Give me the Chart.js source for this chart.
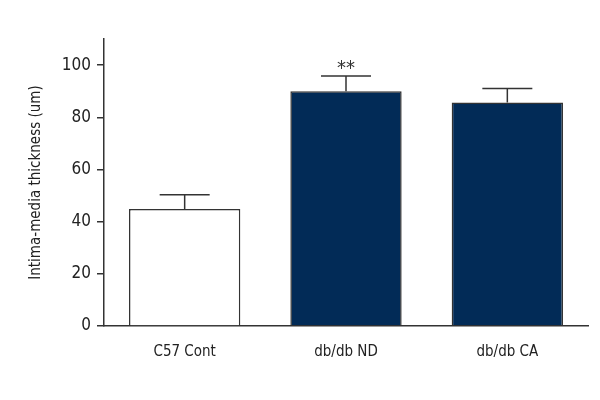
<!DOCTYPE html>
<html>
<head>
<meta charset="utf-8">
<script src="https://cdn.jsdelivr.net/npm/chart.js@4.4.0/dist/chart.umd.min.js"></script>
<style>
  html, body { margin: 0; padding: 0; background: #fff; }
  #wrap { width: 600px; height: 400px; }
</style>
</head>
<body>
<div id="wrap"><canvas id="imtChart"></canvas></div>
<script>
// data
const groups = ['C57 Cont', 'db/db ND', 'db/db CA'];
const means = [44.8, 90.0, 85.7];
const errors = [5.5, 5.8, 5.3];
const marks = ['', '**', ''];
const yTicks = [0, 20, 40, 60, 80, 100];

const FONT = "'DejaVu Sans Condensed', 'Liberation Sans Narrow', sans-serif";
const INK = '#333333';

// error bars + significance stars
const errorBarPlugin = {
  id: 'errorBars',
  afterDatasetsDraw(chart) {
    const ctx = chart.ctx;
    const y = chart.scales.y;
    const meta = chart.getDatasetMeta(0);
    ctx.save();
    ctx.strokeStyle = INK;
    ctx.lineWidth = 1.5;
    meta.data.forEach((bar, i) => {
      const top = y.getPixelForValue(means[i] + errors[i]);
      const base = y.getPixelForValue(means[i]);
      ctx.beginPath();
      ctx.moveTo(bar.x, base);
      ctx.lineTo(bar.x, top);
      ctx.moveTo(bar.x - 25, top);
      ctx.lineTo(bar.x + 25, top);
      ctx.stroke();
      if (marks[i]) {
        ctx.fillStyle = INK;
        ctx.font = "20px " + FONT;
        ctx.textAlign = 'center';
        ctx.textBaseline = 'bottom';
        ctx.fillText(marks[i], bar.x, top + 3);
      }
    });
    ctx.restore();
  }
};

new Chart(document.getElementById('imtChart'), {
  type: 'bar',
  data: {
    labels: groups,
    datasets: [{
      data: means,
      backgroundColor: ['#ffffff', '#022b57', '#022b57'],
      borderColor: INK,
      borderWidth: 1.5,
      barPercentage: 0.69,
      categoryPercentage: 1
    }]
  },
  options: {
    responsive: true,
    maintainAspectRatio: false,
    animation: false,
    layout: { padding: { top: 39, right: 12, bottom: 34, left: 0 } },
    plugins: { legend: { display: false }, tooltip: { enabled: false } },
    scales: {
      x: {
        grid: { display: false },
        border: { display: true, color: INK, width: 1.5 },
        ticks: { color: '#222', font: { family: FONT, size: 15 }, padding: 9 },
        afterFit: s => { s.height = 40; }
      },
      y: {
        min: 0,
        max: 110,
        afterBuildTicks: s => { s.ticks = yTicks.map(v => ({ value: v })); },
        grid: { drawOnChartArea: false, drawTicks: true, tickLength: 7, color: INK, lineWidth: 1.5 },
        border: { display: true, color: INK, width: 1.5 },
        ticks: { color: '#222', font: { family: FONT, size: 17 }, padding: 6 },
        title: { display: true, text: 'Intima-media thickness (um)', color: '#222', font: { family: FONT, size: 15 }, padding: { top: 27, bottom: 4 } },
        afterFit: s => { s.width = 104; }
      }
    }
  },
  plugins: [errorBarPlugin]
});
</script>
</body>
</html>
